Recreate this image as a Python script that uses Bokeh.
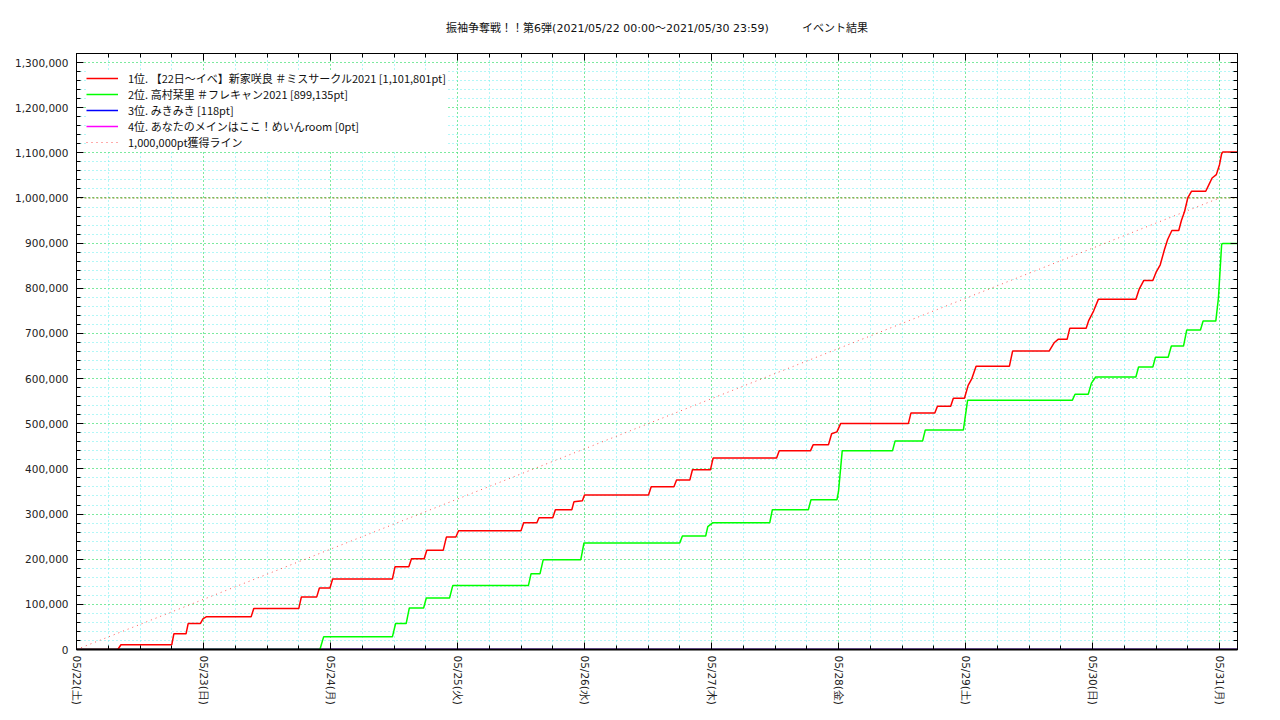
from bokeh.plotting import figure
from bokeh.models import (Range1d, FixedTicker, LinearAxis, NumeralTickFormatter,
                          Legend, LegendItem, Title)
from bokeh.embed import file_html
from bokeh.resources import INLINE

# ---------------- data (x = hours since 05/22 00:00) ----------------
title_text = "振袖争奪戦！！第6弾(2021/05/22 00:00〜2021/05/30 23:59)　　　イベント結果"

day_hours = [0, 24, 48, 72, 96, 120, 144, 168, 192, 216]
day_labels = ["05/22(土)", "05/23(日)", "05/24(月)", "05/25(火)", "05/26(水)",
              "05/27(木)", "05/28(金)", "05/29(土)", "05/30(日)", "05/31(月)"]

y_ticks = [0, 100000, 200000, 300000, 400000, 500000, 600000, 700000,
           800000, 900000, 1000000, 1100000, 1200000, 1300000]

names = ["1位. 【22日〜イベ】新家咲良 ＃ミスサークル2021 [1,101,801pt]",
         "2位. 高村栞里 ＃フレキャン2021 [899,135pt]",
         "3位. みきみき [118pt]",
         "4位. あなたのメインはここ！めいんroom [0pt]",
         "1,000,000pt獲得ライン"]

red_hours = [0, 7.8, 8.4, 18.0, 18.4, 20.7, 21.1, 23.4, 23.9, 24.5, 33.0, 33.5,
             42.0, 42.5, 45.4, 45.9, 47.9, 48.4, 59.7, 60.2, 62.8, 63.3, 65.7, 66.2,
             69.3, 69.9, 71.7, 72.2, 84.0, 84.5, 87.0, 87.4, 90.0, 90.5, 93.6, 94.0,
             95.6, 96.0, 108.1, 108.6, 112.9, 113.4, 115.9, 116.4, 119.8, 120.3,
             132.3, 132.8, 138.7, 139.2, 142.1, 142.7, 143.7, 144.4, 157.2, 157.7,
             162.2, 162.7, 165.2, 165.7, 167.8, 168.5, 169.2, 170.0, 176.3, 176.9,
             183.8, 184.8, 185.5, 187.2, 187.7, 190.8, 191.3, 192.2, 193.1, 200.2,
             200.8, 201.7, 203.4, 204.0, 204.8, 205.6, 206.2, 207.0, 208.3, 208.8,
             209.4, 210.0, 210.7, 213.4, 214.0, 214.6, 215.4, 216.0, 216.4, 216.6, 219.5]
red_values = [0, 0, 10500, 10500, 34700, 34700, 57500, 57500, 68000, 72300, 72300, 90600,
              90600, 116500, 116500, 136400, 136400, 156300, 156300, 183500, 183500, 201200, 201200, 219600,
              219600, 249000, 249000, 263000, 263000, 280800, 280800, 291800, 291800, 309500, 309500, 327000,
              329400, 342000, 342000, 360400, 360400, 375200, 375200, 398000, 398000, 424000,
              424000, 440000, 440000, 453200, 453200, 478000, 482000, 500300, 500300, 524000,
              524000, 538800, 538800, 556500, 556500, 585000, 600000, 627500, 627500, 661000,
              661000, 680000, 687000, 687000, 711300, 711300, 729000, 749500, 775500, 775500,
              797500, 817400, 817400, 835000, 852000, 886000, 908000, 928000, 928000, 950000,
              970000, 1000000, 1014800, 1014800, 1029600, 1044200, 1051700, 1073800, 1098000, 1101801, 1101801]

green_hours = [0, 46.0, 46.7, 59.7, 60.3, 62.3, 62.9, 65.6, 66.1, 70.5, 71.1, 85.4, 85.9,
               87.6, 88.2, 95.3, 95.9, 114.0, 114.5, 118.9, 119.3, 120.2, 131.0, 131.5,
               138.3, 138.8, 143.7, 144.0, 144.7, 154.2, 154.7, 159.9, 160.4, 167.6, 168.4,
               188.2, 188.7, 191.2, 191.8, 192.6, 200.2, 200.7, 203.4, 203.9, 206.3, 206.9,
               209.2, 209.8, 212.4, 212.9, 215.3, 215.8, 216.4, 216.6, 219.5]
green_values = [0, 0, 28000, 28000, 57500, 57500, 92000, 92000, 114000, 114000, 141500, 141500, 168000,
                168000, 199000, 199000, 235900, 235900, 251400, 251400, 272000, 280500, 280500, 309500,
                309500, 331600, 331600, 350000, 440000, 440000, 462000, 462000, 486400, 486400, 552300,
                552300, 565300, 565300, 590000, 603600, 603600, 625700, 625700, 647200, 647200, 672100,
                672100, 707500, 707500, 727400, 727400, 779000, 897000, 899135, 899135]

blue_hours = [0, 216.0, 216.3, 219.5]
blue_values = [0, 0, 118, 118]

magenta_hours = [0, 219.5]
magenta_values = [0, 0]

goal_hours = [0, 216]
goal_values = [0, 1000000]

# ---------------- figure ----------------
FONT = "DejaVu Sans"
p = figure(width=1272, height=712, output_backend="svg", toolbar_location=None,
           x_range=Range1d(0, 219.4), y_range=Range1d(0, 1320000),
           min_border_left=76, min_border_right=35, min_border_top=52, min_border_bottom=63,
           x_axis_location=None, y_axis_location=None)
p.outline_line_color = "black"
p.outline_line_width = 1
p.background_fill_color = "white"
p.border_fill_color = "white"

x_minor = [h * 6 for h in range(0, 37)]
y_minor = [i * 20000 for i in range(0, 67)]
xt = FixedTicker(ticks=day_hours, minor_ticks=x_minor)
yt = FixedTicker(ticks=y_ticks, minor_ticks=y_minor)

overrides = {h: lab for h, lab in zip(day_hours, day_labels)}

def style_axis(ax, labels=True):
    ax.axis_line_color = "black"
    ax.major_tick_line_color = "black"
    ax.minor_tick_line_color = "black"
    ax.major_tick_in = 7
    ax.major_tick_out = 0
    ax.minor_tick_in = 4
    ax.minor_tick_out = 0
    ax.major_label_text_font = FONT
    ax.major_label_text_font_size = "10.5px"
    ax.major_label_text_color = "#222222"
    if not labels:
        ax.major_label_standoff = 0

bx = LinearAxis(ticker=xt, major_label_overrides=overrides, major_label_orientation="vertical")
style_axis(bx)
bx.axis_line_width = 2
bx.major_label_standoff = 6
p.add_layout(bx, "below")

tx = LinearAxis(ticker=xt, major_label_overrides={h: "" for h in day_hours})
style_axis(tx, labels=False)
p.add_layout(tx, "above")

ly = LinearAxis(ticker=yt, formatter=NumeralTickFormatter(format="0,0"))
style_axis(ly)
ly.major_label_standoff = 8
p.add_layout(ly, "left")

ry = LinearAxis(ticker=yt, major_label_overrides={v: "" for v in y_ticks})
style_axis(ry, labels=False)
p.add_layout(ry, "right")

p.xgrid.ticker = xt
p.ygrid.ticker = yt
for g in (p.xgrid, p.ygrid):
    g.grid_line_color = "#44dd44"
    g.grid_line_dash = "1 3"
    g.grid_line_width = 1
    g.minor_grid_line_color = "#66eeee"
    g.minor_grid_line_dash = "1 3"
    g.minor_grid_line_width = 1

# horizontal 1,000,000 reference (olive dotted over grid)
p.line([0, 219.4], [1000000, 1000000], line_color="#888822", line_dash="2 2", line_width=1)

r_goal = p.line(goal_hours, goal_values, line_color="#ff5555", line_dash="1 4", line_width=1)
r_mag = p.line(magenta_hours, magenta_values, line_color="#ff00ff", line_width=1.5)
r_blue = p.line(blue_hours, blue_values, line_color="#0000ff", line_width=1.5)
r_green = p.line(green_hours, green_values, line_color="#00ff00", line_width=1.5)
r_red = p.line(red_hours, red_values, line_color="#ff0000", line_width=1.5)

legend = Legend(items=[LegendItem(label=names[0], renderers=[r_red]),
                       LegendItem(label=names[1], renderers=[r_green]),
                       LegendItem(label=names[2], renderers=[r_blue]),
                       LegendItem(label=names[3], renderers=[r_mag]),
                       LegendItem(label=names[4], renderers=[r_goal])],
                location=(10, 499))
legend.background_fill_color = "white"
legend.background_fill_alpha = 1.0
legend.border_line_color = None
legend.padding = 4
legend.spacing = 0
legend.margin = 0
legend.glyph_width = 32
legend.glyph_height = 16
legend.label_height = 16
legend.label_standoff = 10
legend.label_text_font = "Noto Sans CJK JP"
legend.label_text_font_size = "11px"
legend.label_text_color = "#111111"
p.add_layout(legend, "center")

p.title = Title(text=title_text, align="center", text_font="DejaVu Sans, Noto Sans CJK JP",
                text_font_size="11px", text_font_style="normal", text_color="#111111",
                standoff=38)

open("out.html", "w").write(file_html(p, INLINE))
